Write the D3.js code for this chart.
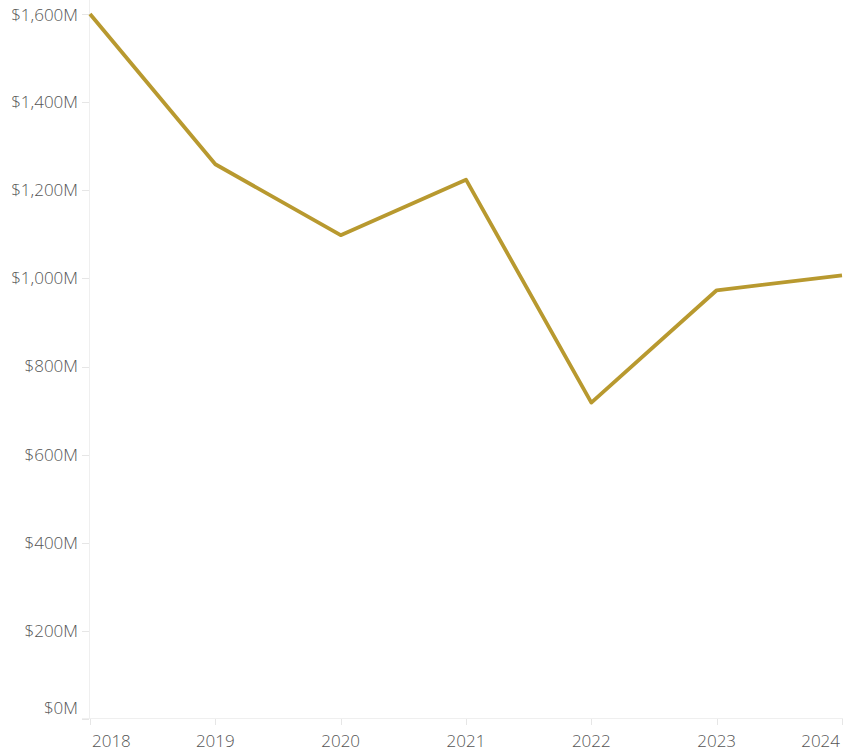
<!DOCTYPE html>
<html><head><meta charset="utf-8">
<script src="https://cdn.jsdelivr.net/npm/d3@7"></script>
<style>body{margin:0;background:#fff}svg{display:block}text{font-family:"Open Sans",sans-serif;fill:#555;font-weight:300}</style>
</head><body>
<svg id="c" width="861" height="752"></svg>
<script>
const years = [2018, 2019, 2020, 2021, 2022, 2023, 2024];
const values = [1600, 1259, 1098, 1224, 718, 973, 1007];
const yTicks = [0, 200, 400, 600, 800, 1000, 1200, 1400, 1600];

const svg = d3.select("#c");
const x = d3.scaleLinear().domain([2018, 2024]).range([90, 842]);
const y = d3.scaleLinear().domain([0, 1600]).range([719, 14]);

// axis lines
svg.append("line").attr("x1", 89.5).attr("x2", 89.5).attr("y1", 0).attr("y2", 718)
  .attr("stroke", "#efefef").attr("stroke-width", 1);
svg.append("line").attr("x1", 82).attr("x2", 843).attr("y1", 718.5).attr("y2", 718.5)
  .attr("stroke", "#efefef").attr("stroke-width", 1);

// y ticks
const yg = svg.append("g");
yg.selectAll("line").data(yTicks).join("line")
  .attr("x1", 82).attr("x2", 89).attr("y1", d => Math.round(y(d)) + 0.5).attr("y2", d => Math.round(y(d)) + 0.5)
  .attr("stroke", "#e6e6e6");
yg.selectAll("text").data(yTicks).join("text")
  .attr("x", 78).attr("y", d => Math.max(y(d), 15)).attr("dy", "0.35em")
  .attr("transform", d => d === 0 ? "translate(0,-11)" : null)
  .attr("text-anchor", "end").attr("font-size", 17)
  .text(d => "$" + d3.format(",")(d) + "M");

// x ticks
const xg = svg.append("g");
xg.selectAll("line").data(years).join("line")
  .attr("x1", d => Math.round(x(d)) + 0.5).attr("x2", d => Math.round(x(d)) + 0.5)
  .attr("y1", 719).attr("y2", 725).attr("stroke", "#e6e6e6");
xg.selectAll("text").data(years).join("text")
  .attr("x", (d, i) => i === 0 ? x(d) + 2 : i === years.length - 1 ? x(d) - 2 : x(d))
  .attr("y", 741).attr("dy", "0.35em")
  .attr("text-anchor", (d, i) => i === 0 ? "start" : i === years.length - 1 ? "end" : "middle")
  .attr("font-size", 17)
  .text(d => d);

// line
const line = d3.line().x((d, i) => x(years[i])).y(d => y(d));
svg.append("path").datum(values).attr("d", line)
  .attr("fill", "none").attr("stroke", "#b8992f").attr("stroke-width", 3.8)
  .attr("stroke-linejoin", "round");
</script>
</body></html>
